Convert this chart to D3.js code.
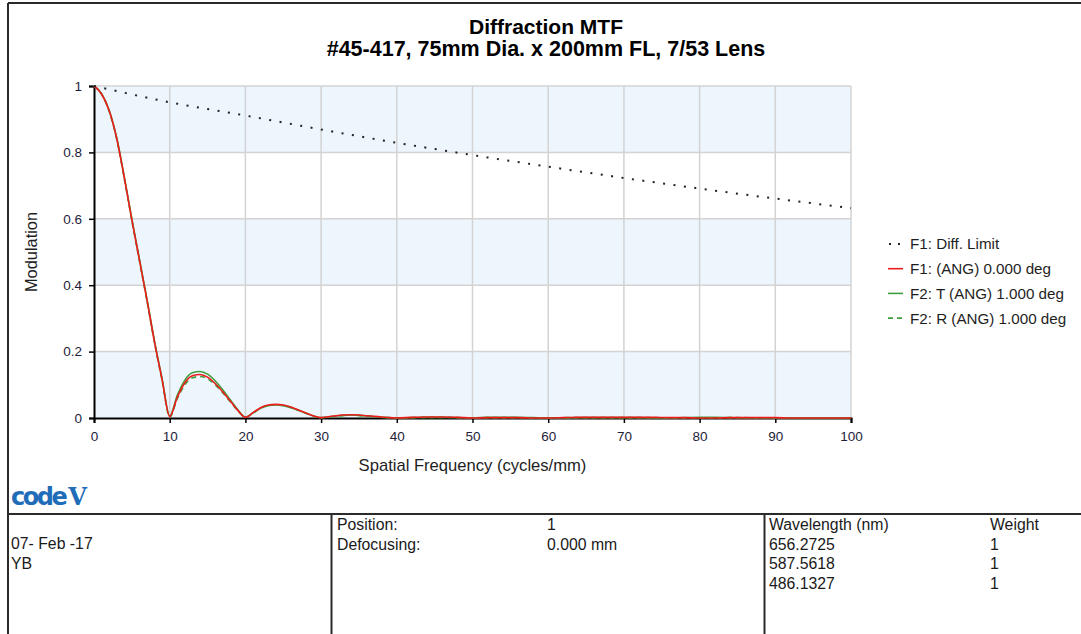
<!DOCTYPE html>
<html>
<head>
<meta charset="utf-8">
<script src="https://cdn.jsdelivr.net/npm/d3@7"></script>
<style>
    body { margin: 0; background: #fff; }
    text { font-family: "Liberation Sans", Arial, sans-serif; }
</style>
</head>
<body>
<div id="chart"></div>
<script>
// values
var freq = [0, 1, 2, 3, 4, 5, 6, 7, 8, 9, 10,
    11, 12, 13, 14, 15, 16, 17, 18, 19, 20,
    21, 22, 23, 24, 25, 26, 27, 28, 29, 30,
    31, 32, 33, 34, 35, 36, 37, 38, 39, 40,
    42, 44, 46, 48, 50, 52, 54, 56, 58, 60,
    62, 64, 66, 68, 70, 72, 74, 76, 78, 80,
    82, 84, 86, 88, 90, 92, 94, 96, 98, 100];

var f1Axis = [1, 0.976, 0.926, 0.842, 0.724, 0.597, 0.476, 0.355, 0.228, 0.115, 0.004,
    0.062, 0.106, 0.127, 0.131, 0.123, 0.104, 0.079, 0.051, 0.023, 0.002,
    0.016, 0.031, 0.039, 0.041, 0.039, 0.033, 0.024, 0.015, 0.006, 0.001,
    0.004, 0.007, 0.009, 0.010, 0.009, 0.007, 0.005, 0.003, 0.001, 0.000,
    0.002, 0.003, 0.003, 0.002, 0.000, 0.001, 0.001, 0.001, 0.000, 0.000,
    0.001, 0.002, 0.002, 0.002, 0.002, 0.002, 0.002, 0.001, 0.001, 0.000,
    0.000, 0.001, 0.001, 0.001, 0.001, 0.000, 0.000, 0.000, 0.000, 0.000];

var f2Tan = [1, 0.977, 0.927, 0.844, 0.727, 0.600, 0.479, 0.358, 0.231, 0.118, 0.006,
    0.068, 0.114, 0.136, 0.140, 0.132, 0.112, 0.085, 0.055, 0.025, 0.003,
    0.015, 0.029, 0.037, 0.039, 0.037, 0.031, 0.023, 0.014, 0.006, 0.001,
    0.003, 0.006, 0.008, 0.009, 0.008, 0.006, 0.004, 0.002, 0.001, 0.000,
    0.001, 0.002, 0.002, 0.001, 0.000, 0.002, 0.002, 0.002, 0.001, 0.000,
    0.000, 0.001, 0.001, 0.001, 0.001, 0.001, 0.000, 0.000, 0.001, 0.002,
    0.002, 0.001, 0.000, 0.000, 0.000, 0.000, 0.000, 0.000, 0.000, 0.000];

var f2Rad = [1, 0.975, 0.924, 0.840, 0.721, 0.594, 0.473, 0.352, 0.225, 0.113, 0.003,
    0.058, 0.100, 0.121, 0.125, 0.118, 0.100, 0.076, 0.049, 0.022, 0.002,
    0.015, 0.030, 0.038, 0.040, 0.038, 0.032, 0.023, 0.014, 0.006, 0.001,
    0.003, 0.006, 0.008, 0.009, 0.008, 0.006, 0.004, 0.002, 0.001, 0.000,
    0.001, 0.002, 0.002, 0.001, 0.000, 0.001, 0.001, 0.001, 0.000, 0.000,
    0.001, 0.001, 0.001, 0.001, 0.001, 0.001, 0.001, 0.000, 0.000, 0.000,
    0.000, 0.001, 0.001, 0.000, 0.000, 0.000, 0.000, 0.000, 0.000, 0.000];

var diffFreq = [0, 10, 20, 30, 40, 50, 60, 70, 80, 90, 100];
var diffLimit = [1, 0.951, 0.911, 0.869, 0.829, 0.792, 0.757, 0.723, 0.691, 0.661, 0.632];

var xTicks = [0, 10, 20, 30, 40, 50, 60, 70, 80, 90, 100];
var yTicks = [0, 0.2, 0.4, 0.6, 0.8, 1];

var legendLabels = ["F1: Diff. Limit", "F1: (ANG) 0.000 deg", "F2: T (ANG) 1.000 deg", "F2: R (ANG) 1.000 deg"];

var titleLines = ["Diffraction MTF", "#45-417, 75mm Dia. x 200mm FL, 7/53 Lens"];

var infoLeft = ["07- Feb -17", "YB"];
var infoMidLabels = ["Position:", "Defocusing:"];
var infoMidValues = ["1", "0.000 mm"];
var wavelengths = ["656.2725", "587.5618", "486.1327"];
var weights = ["1", "1", "1"];

var mtf_chart = (function () {

    var width = 1081, height = 634;
    var left = 94, right = 851, top = 86, bottom = 418;

    return {
        draw: function (placement) {
            var svg = d3.select(placement).append("svg")
                .attr("width", width)
                .attr("height", height);

            var x = d3.scaleLinear().domain([0, 100]).range([left, right]);
            var y = d3.scaleLinear().domain([0, 1]).range([bottom, top]);

            // alternating bands
            var bands = [[0.8, 1], [0.4, 0.6], [0, 0.2]];
            svg.selectAll("rect.band").data(bands).enter().append("rect")
                .attr("class", "band")
                .attr("x", x(0))
                .attr("width", x(100) - x(0))
                .attr("y", function (d) { return y(d[1]); })
                .attr("height", function (d) { return y(d[0]) - y(d[1]); })
                .style("fill", "#edf5fd");

            // grid
            svg.selectAll("line.vgrid").data(xTicks.slice(1)).enter().append("line")
                .attr("x1", function (d) { return x(d); })
                .attr("x2", function (d) { return x(d); })
                .attr("y1", y(0)).attr("y2", y(1))
                .style("stroke", "#d3d3d3").style("stroke-width", 1.5);

            svg.selectAll("line.hgrid").data(yTicks.slice(1)).enter().append("line")
                .attr("y1", function (d) { return y(d); })
                .attr("y2", function (d) { return y(d); })
                .attr("x1", x(0)).attr("x2", x(100))
                .style("stroke", "#d3d3d3").style("stroke-width", 1.5);

            // axes
            var xAxis = svg.append("g")
                .attr("transform", "translate(0," + y(0) + ")")
                .call(d3.axisBottom(x).tickValues(xTicks).tickSize(5).tickPadding(8).tickFormat(d3.format("d")));
            var yAxis = svg.append("g")
                .attr("transform", "translate(" + x(0) + ",0)")
                .call(d3.axisLeft(y).tickValues(yTicks).tickSize(5).tickPadding(7).tickFormat(function (d) { return d3.format("")(+d.toFixed(1)); }));

            [xAxis, yAxis].forEach(function (a) {
                a.select(".domain").style("stroke", "#000").style("stroke-width", 2);
                a.selectAll(".tick line").style("stroke", "#000").style("stroke-width", 1.5);
                a.selectAll(".tick text")
                    .style("font-family", "'Liberation Sans', Arial, sans-serif")
                    .style("font-size", "13.5px")
                    .style("fill", "#1e1e3a");
            });

            // curves
            var line = d3.line()
                .x(function (d) { return x(d[0]); })
                .y(function (d) { return y(d[1]); })
                .curve(d3.curveMonotoneX);

            var series = [
                {vals: f2Tan, color: "#3f9f3f", dash: null},
                {vals: f2Rad, color: "#3f9f3f", dash: "5,4"},
                {vals: f1Axis, color: "#ee1c1c", dash: null}
            ];

            svg.selectAll("path.mtf").data(series).enter().append("path")
                .attr("class", "mtf")
                .attr("d", function (s) {
                    return line(freq.map(function (f, i) { return [f, s.vals[i]]; }));
                })
                .style("fill", "none")
                .style("stroke", function (s) { return s.color; })
                .style("stroke-width", 1.6)
                .style("stroke-dasharray", function (s) { return s.dash; });

            svg.append("path")
                .attr("d", line(diffFreq.map(function (f, i) { return [f, diffLimit[i]]; })))
                .style("fill", "none")
                .style("stroke", "#222")
                .style("stroke-width", 2)
                .style("stroke-dasharray", "2,8.5");

            // titles
            svg.selectAll("text.title").data(titleLines).enter().append("text")
                .attr("x", 546)
                .attr("y", function (d, i) { return 34 + i * 22; })
                .attr("text-anchor", "middle")
                .style("font-size", function (d, i) { return i === 0 ? "21px" : "21.5px"; })
                .style("font-weight", "bold")
                .style("fill", "#000")
                .text(function (d) { return d; });

            svg.append("text")
                .attr("x", (left + right) / 2)
                .attr("y", 471)
                .attr("text-anchor", "middle")
                .style("font-size", "16.6px")
                .style("fill", "#1e1e1e")
                .text("Spatial Frequency (cycles/mm)");

            svg.append("text")
                .attr("transform", "translate(37," + (top + bottom) / 2 + ") rotate(-90)")
                .attr("text-anchor", "middle")
                .style("font-size", "16.4px")
                .style("fill", "#1e1e1e")
                .text("Modulation");

            // legend
            var legendStyle = [
                {color: "#222", dash: "2,7", width: 2},
                {color: "#ee1c1c", dash: null, width: 1.6},
                {color: "#3f9f3f", dash: null, width: 1.6},
                {color: "#3f9f3f", dash: "5,4", width: 1.6}
            ];
            var legend = svg.selectAll("g.legend").data(legendLabels).enter().append("g")
                .attr("transform", function (d, i) { return "translate(888," + (244 + i * 24.7) + ")"; });
            legend.append("line")
                .attr("x1", function (d, i) { return i === 0 ? 1 : 0; }).attr("x2", 15)
                .style("stroke", function (d, i) { return legendStyle[i].color; })
                .style("stroke-width", function (d, i) { return legendStyle[i].width; })
                .style("stroke-dasharray", function (d, i) { return legendStyle[i].dash; });
            legend.append("text")
                .attr("x", 22).attr("dy", "0.36em")
                .style("font-size", "15.2px")
                .style("fill", "#1e1e1e")
                .text(function (d) { return d; });

            // logo
            var logo = svg.append("text")
                .attr("x", 11).attr("y", 505)
                .style("fill", "#1f6cb8")
                .style("font-family", "'DejaVu Sans', sans-serif")
                .style("font-weight", "bold")
                .style("font-size", "24px")
                .style("letter-spacing", "-2.5px");
            logo.append("tspan").text("code");
            logo.append("tspan").attr("dx", 3)
                .style("font-family", "'DejaVu Serif', serif")
                .style("letter-spacing", "0px")
                .text("V");

            // frame and info table
            var frame = svg.append("g")
                .style("stroke", "#2a2a2a")
                .style("stroke-width", 2);
            frame.append("line").attr("x1", 8).attr("x2", width).attr("y1", 3).attr("y2", 3);
            frame.append("line").attr("x1", 8).attr("x2", 8).attr("y1", 3).attr("y2", height);
            frame.append("line").attr("x1", 8).attr("x2", width).attr("y1", 514).attr("y2", 514);
            frame.append("line").attr("x1", 331.5).attr("x2", 331.5).attr("y1", 514).attr("y2", height);
            frame.append("line").attr("x1", 764.5).attr("x2", 764.5).attr("y1", 514).attr("y2", height);

            var info = svg.append("g")
                .style("font-size", "15.8px")
                .style("fill", "#1a1a1a");

            info.selectAll("text.left").data(infoLeft).enter().append("text")
                .attr("x", 11).attr("y", function (d, i) { return 549 + i * 20; })
                .text(function (d) { return d; });
            info.selectAll("text.midl").data(infoMidLabels).enter().append("text")
                .attr("x", 337).attr("y", function (d, i) { return 530 + i * 20; })
                .text(function (d) { return d; });
            info.selectAll("text.midv").data(infoMidValues).enter().append("text")
                .attr("x", 547).attr("y", function (d, i) { return 530 + i * 20; })
                .text(function (d) { return d; });

            info.append("text").attr("x", 769).attr("y", 530).text("Wavelength (nm)");
            info.append("text").attr("x", 990).attr("y", 530).text("Weight");
            info.selectAll("text.wl").data(wavelengths).enter().append("text")
                .attr("x", 769).attr("y", function (d, i) { return 549.5 + i * 19.7; })
                .text(function (d) { return d; });
            info.selectAll("text.wt").data(weights).enter().append("text")
                .attr("x", 990).attr("y", function (d, i) { return 549.5 + i * 19.7; })
                .text(function (d) { return d; });
        }
    }
})();

mtf_chart.draw("#chart");
</script>
</body>
</html>
